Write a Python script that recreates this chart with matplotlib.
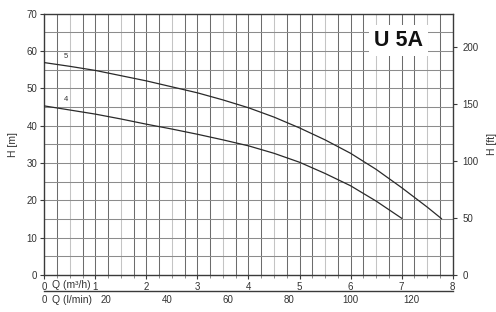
import numpy as np
import matplotlib
matplotlib.use("Agg")
from matplotlib import pyplot as plt

plt.rcParams['font.family'] = ['Liberation Sans', 'DejaVu Sans']

# pump curves (Q in m3/h, H in m)
q5 = [0, 0.5, 1, 1.5, 2, 2.5, 3, 3.5, 4, 4.5, 5, 5.5, 6, 6.5, 7, 7.5, 7.78]
h5 = [56.9, 55.9, 54.8, 53.4, 52.0, 50.4, 48.8, 46.9, 44.8, 42.3, 39.4, 36.2, 32.6, 28.3, 23.4, 18.2, 15.1]
q4 = [0, 0.5, 1, 1.5, 2, 2.5, 3, 3.5, 4, 4.5, 5, 5.5, 6, 6.5, 7]
h4 = [45.3, 44.2, 43.1, 41.8, 40.4, 39.1, 37.7, 36.2, 34.6, 32.6, 30.2, 27.2, 23.9, 19.8, 15.2]
curve_names = ['5', '4']

q_ticks = [0, 1, 2, 3, 4, 5, 6, 7, 8]
lmin_ticks = [0, 20, 40, 60, 80, 100, 120]
h_ticks = [0, 10, 20, 30, 40, 50, 60, 70]
ft_ticks = [0, 50, 100, 150, 200]

txt = '#333333'
fig = plt.figure(figsize=(4.96, 3.12), dpi=100)
ax = fig.add_axes([0.0893, 0.1186, 0.8234, 0.8375])

ax.set_xlim(0, 8)
ax.set_ylim(0, 70)

# grid
for x in np.arange(0.25, 8, 0.25):
    c = '#c4c4c4' if (x % 1) == 0.5 else '#6c6c6c'
    ax.axvline(x, color=c, lw=0.75, zorder=1)
for y in np.arange(5, 70, 5):
    ax.axhline(y, color='#8c8c8c', lw=0.75, zorder=1)

ax.plot(q5, h5, color='#2a2a2a', lw=0.9, zorder=3)
ax.plot(q4, h4, color='#2a2a2a', lw=0.9, zorder=3)
ax.text(0.42, 57.6, curve_names[0], fontsize=5.5, color=txt, ha='center', va='bottom', zorder=4)
ax.text(0.42, 46.2, curve_names[1], fontsize=5.5, color=txt, ha='center', va='bottom', zorder=4)

ax.text(6.93, 62.8, 'U 5A', fontsize=15.5, fontweight='bold', color='#111111',
        ha='center', va='center', zorder=5,
        bbox=dict(facecolor='white', edgecolor='none', pad=3.5))

for s in ax.spines.values():
    s.set_color('#3a3a3a')
    s.set_linewidth(1.0)

ax.set_xticks(q_ticks)
ax.set_xticklabels([str(t) for t in q_ticks])
ax.set_xticks(np.arange(0, 8.01, 0.25), minor=True)
ax.set_yticks(h_ticks)
ax.tick_params(axis='both', labelsize=7, colors='#3a3a3a', labelcolor=txt,
               length=3, width=0.8, pad=2)
ax.tick_params(axis='x', which='minor', length=2, width=0.6, colors='#7a7a7a')
ax.set_ylabel('H [m]', fontsize=7.5, color=txt, labelpad=6)
ax.text(0.16, -2.75, 'Q (m\u00b3/h)', fontsize=7.5, color=txt, ha='left', va='center')

# right axis in feet
ax2 = ax.twinx()
ax2.set_ylim(0, 70 / 0.3048)
ax2.set_yticks(ft_ticks)
ax2.tick_params(axis='y', labelsize=7, colors='#3a3a3a', labelcolor=txt,
                length=3, width=0.8, pad=4)
ax2.set_ylabel('H [ft]', fontsize=7.5, color=txt, rotation=90, labelpad=6)
for s in ax2.spines.values():
    s.set_visible(False)

# second flow axis in l/min
sec = ax.secondary_xaxis(-0.061, functions=(lambda q: q * 1000 / 60, lambda l: l * 60 / 1000))
sec.set_xticks(lmin_ticks)
sec.tick_params(labelsize=7, colors='#3a3a3a', labelcolor=txt, length=0, width=0.8, pad=3)
sec.spines['bottom'].set_color('#3a3a3a')
sec.spines['bottom'].set_linewidth(1.0)
ax.text(0.16, -6.7, 'Q (l/min)', fontsize=7.5, color=txt, ha='left', va='center')

fig.savefig('out.png', dpi=100)
